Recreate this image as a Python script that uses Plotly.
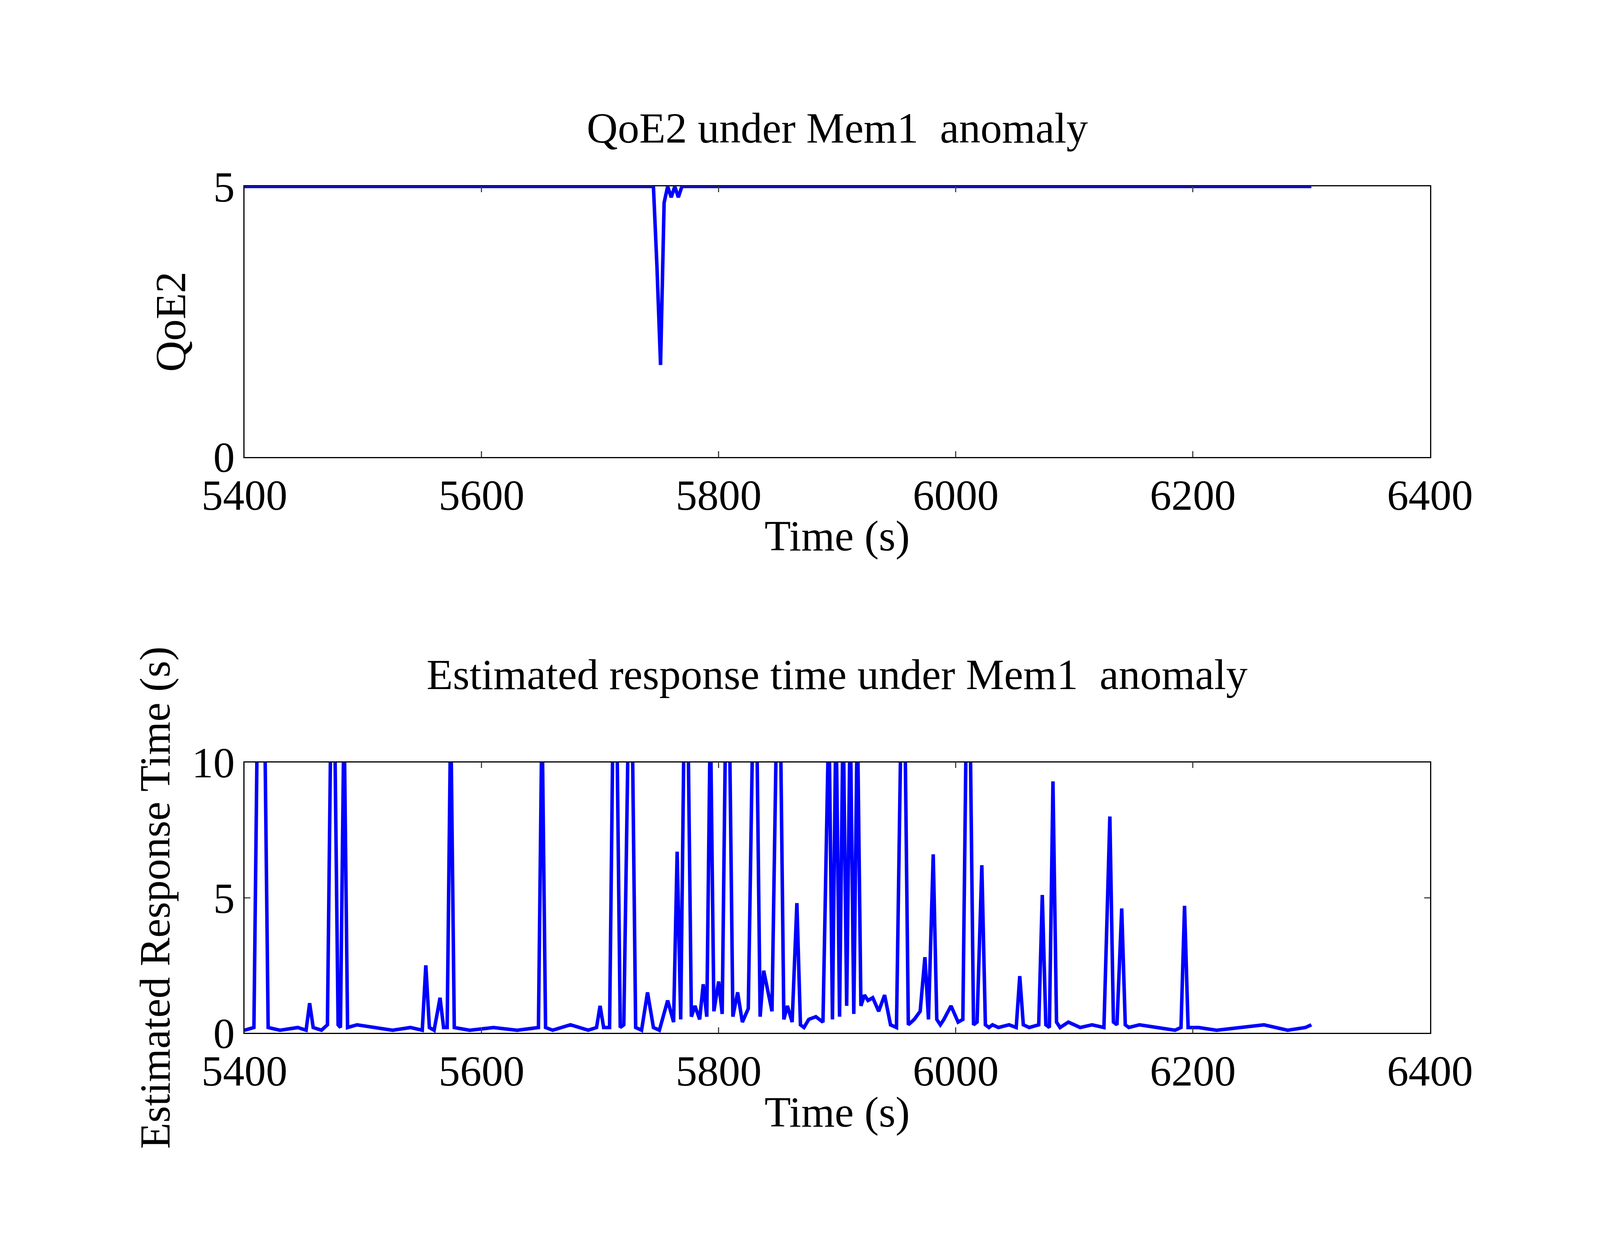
import plotly.graph_objects as go
from plotly.subplots import make_subplots

# top panel: QoE2
qoe_t = [5400, 5745, 5748, 5751, 5754, 5757, 5760, 5763, 5766, 5769, 5772, 6300]
qoe_v = [5, 5, 3.5, 1.7, 4.7, 5, 4.8, 5, 4.8, 5, 5, 5]

# bottom panel: estimated response time
rt_t = [5400, 5408, 5411, 5414, 5417, 5420, 5430, 5445, 5452, 5455, 5458, 5465, 5470,
        5473, 5476, 5479, 5481, 5484, 5487, 5495, 5510, 5525, 5540, 5550, 5553, 5556,
        5560, 5565, 5568, 5571, 5574, 5577, 5590, 5610, 5630, 5648, 5651, 5654, 5660,
        5675, 5690, 5697, 5700, 5703, 5708, 5711, 5714, 5717, 5720, 5724, 5727, 5730,
        5735, 5740, 5745, 5750, 5757, 5762, 5765, 5768, 5771, 5774, 5777, 5780, 5784,
        5787, 5790, 5793, 5796, 5800, 5803, 5806, 5809, 5812, 5816, 5820, 5825, 5829,
        5832, 5835, 5838, 5842, 5845, 5849, 5852, 5855, 5858, 5862, 5866, 5869, 5872,
        5876, 5882, 5888, 5893, 5896, 5899, 5902, 5905, 5908, 5911, 5914, 5917, 5920,
        5923, 5926, 5930, 5935, 5940, 5945, 5950, 5954, 5957, 5960, 5965, 5970, 5974,
        5977, 5981, 5984, 5987, 5990, 5996, 6002, 6006, 6009, 6012, 6015, 6018, 6022,
        6025, 6028, 6031, 6036, 6045, 6051, 6054, 6057, 6062, 6070, 6073, 6076, 6079,
        6082, 6085, 6088, 6095, 6105, 6115, 6125, 6130, 6133, 6136, 6140, 6143, 6146,
        6155, 6170, 6185, 6190, 6193, 6196, 6205, 6220, 6240, 6260, 6280, 6295, 6300]
rt_v = [0.1, 0.2, 12, 12, 12, 0.2, 0.1, 0.2, 0.1, 1.1, 0.2, 0.1, 0.3,
        12, 12, 0.3, 0.2, 12, 0.2, 0.3, 0.2, 0.1, 0.2, 0.1, 2.5, 0.2,
        0.1, 1.3, 0.2, 0.2, 12, 0.2, 0.1, 0.2, 0.1, 0.2, 12, 0.2, 0.1,
        0.3, 0.1, 0.2, 1.0, 0.2, 0.2, 12, 12, 0.2, 0.3, 12, 12, 0.2,
        0.1, 1.5, 0.2, 0.1, 1.2, 0.4, 6.7, 0.5, 12, 12, 0.6, 1.0, 0.5,
        1.8, 0.6, 12, 0.8, 1.9, 0.7, 12, 12, 0.6, 1.5, 0.4, 0.9, 12,
        12, 0.6, 2.3, 1.5, 0.8, 12, 12, 0.5, 1.0, 0.4, 4.8, 0.3, 0.2,
        0.5, 0.6, 0.4, 12, 0.5, 12, 0.6, 12, 1.0, 12, 0.7, 12, 1.0,
        1.4, 1.2, 1.3, 0.8, 1.4, 0.3, 0.2, 12, 12, 0.3, 0.5, 0.8, 2.8,
        0.5, 6.6, 0.5, 0.3, 0.5, 1.0, 0.4, 0.5, 12, 12, 0.3, 0.4, 6.2,
        0.3, 0.2, 0.3, 0.2, 0.3, 0.2, 2.1, 0.3, 0.2, 0.3, 5.1, 0.3, 0.2,
        9.3, 0.4, 0.2, 0.4, 0.2, 0.3, 0.2, 8.0, 0.4, 0.3, 4.6, 0.3, 0.2,
        0.3, 0.2, 0.1, 0.2, 4.7, 0.2, 0.2, 0.1, 0.2, 0.3, 0.1, 0.2, 0.3, 0.1]

FONT = "Liberation Serif"
BLUE = "#0000ff"
FS = 110

fig = make_subplots(rows=2, cols=1)
fig.add_trace(go.Scatter(x=qoe_t, y=qoe_v, mode="lines",
                         line=dict(color=BLUE, width=9)), row=1, col=1)
fig.add_trace(go.Scatter(x=rt_t, y=rt_v, mode="lines",
                         line=dict(color=BLUE, width=9)), row=2, col=1)

ax = dict(showline=True, mirror="ticks", linecolor="black", linewidth=2.5,
          ticks="inside", ticklen=15, tickwidth=2.5, showgrid=False, zeroline=False,
          tickfont=dict(family=FONT, size=FS, color="black"))
xcommon = dict(ax, range=[5400, 6400], tickvals=[5400, 5600, 5800, 6000, 6200, 6400],
               title=dict(text="Time (s)", font=dict(family=FONT, size=FS, color="black"),
                          standoff=5))
fig.update_layout(
    paper_bgcolor="white", plot_bgcolor="white",
    showlegend=False, margin=dict(l=0, r=0, t=0, b=0),
    xaxis=dict(xcommon, domain=[0.131, 0.914], anchor="y"),
    xaxis2=dict(xcommon, domain=[0.131, 0.914], anchor="y2"),
    yaxis=dict(ax, domain=[0.642, 0.867], range=[0, 5], tickvals=[0, 5],
               title=dict(text="QoE2", font=dict(family=FONT, size=FS, color="black"),
                          standoff=35)),
    yaxis2=dict(ax, domain=[0.163, 0.388], range=[0, 10], tickvals=[0, 5, 10],
                title=dict(text="Estimated Response Time (s)",
                           font=dict(family=FONT, size=FS, color="black"), standoff=20)),
    annotations=[
        dict(text="QoE2 under Mem1  anomaly", x=0.5225, y=0.936, xref="paper", yref="paper",
             showarrow=False, font=dict(family=FONT, size=FS, color="black")),
        dict(text="Estimated response time under Mem1  anomaly", x=0.5225, y=0.461,
             xref="paper", yref="paper", showarrow=False,
             font=dict(family=FONT, size=FS, color="black")),
    ],
)
fig.write_html("out.html", default_width="100vw", default_height="100vh")
